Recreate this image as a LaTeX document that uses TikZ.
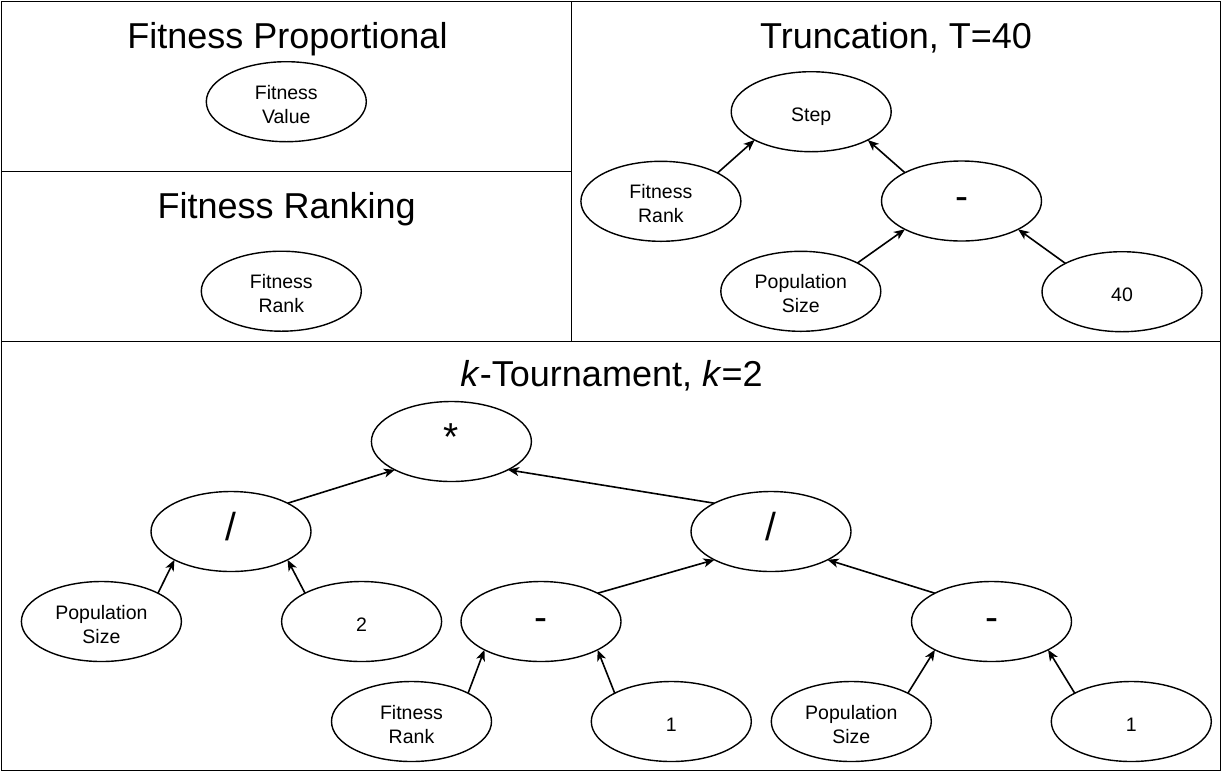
\documentclass[tikz,border=0pt]{standalone}
\usepackage{fontspec}
\setmainfont{Liberation Sans}
\usetikzlibrary{arrows.meta,shapes.geometric}
\begin{document}
\begin{tikzpicture}[x=1pt,y=-1pt,
  panel/.style={draw=black,line width=1.8pt},
  leaf/.style={draw=black,line width=1.4pt,ellipse,minimum width=160pt,minimum height=80pt,inner sep=0pt,outer sep=0pt,align=center,font=\fontsize{19.5}{24}\selectfont,text height=19pt,text depth=0pt},
  leaftwo/.style={leaf,text height=43.2pt,text depth=0pt},
  op/.style={leaf,font=\fontsize{39}{44}\selectfont,text height=22pt,text depth=5pt},
  ttl/.style={anchor=base,font=\fontsize{36}{42}\selectfont,inner sep=0pt},
  link/.style={line width=1.6pt,-{Stealth[length=11pt,width=9pt,inset=3pt]}}]
\useasboundingbox (0,0) rectangle (1222,772);
\draw[panel] (1.5,1.5) rectangle (1220.5,770.5);
\draw[panel] (571.5,1.5) -- (571.5,341.5);
\draw[panel] (1.5,171.5) -- (571.5,171.5);
\draw[panel] (1.5,341.5) -- (1220.5,341.5);
% titles
\node[ttl] (t1) at (287.5,48) {Fitness Proportional};
\node[ttl] (t2) at (286.7,218) {Fitness Ranking};
\node[ttl] (t3) at (896,48) {Truncation, T=40};
\node[ttl] (t4) at (611.5,386.7) {\textit{k}-Tournament, \textit{k}=2};
% left panels
\node[leaftwo] (fv) at (286.3,101.7) {Fitness\\Value};
\node[leaftwo] (fr1) at (281.3,291.2) {Fitness\\Rank};
% truncation
\node[leaf] (step) at (811.2,111.7) {Step};
\node[leaftwo] (fr2) at (660.9,201.3) {Fitness\\Rank};
\node[op] (m1) at (961.5,201) {-};
\node[leaftwo] (ps1) at (800.8,291.3) {Population\\Size};
\node[leaf] (n40) at (1122,291.7) {40};
% tournament
\node[op] (star) at (451.4,441.5) {*};
\node[op] (d1) at (231,531.5) {/};
\node[op] (d2) at (771,531.5) {/};
\node[leaftwo] (ps2) at (101.4,621.5) {Population\\Size};
\node[leaf] (two) at (361.6,621.5) {2};
\node[op] (m2) at (541,621.5) {-};
\node[op] (m3) at (991.5,621.5) {-};
\node[leaftwo] (fr3) at (411.5,721.5) {Fitness\\Rank};
\node[leaf] (one1) at (671.3,721.5) {1};
\node[leaftwo] (ps3) at (851.3,721.5) {Population\\Size};
\node[leaf] (one2) at (1131.3,721.5) {1};
% edges
\draw[link] (fr2.north east) -- (step.south west);
\draw[link] (m1.north west) -- (step.south east);
\draw[link] (ps1.north east) -- (m1.south west);
\draw[link] (n40.north west) -- (m1.south east);
\draw[link] (d1.north east) -- (star.south west);
\draw[link] (d2.north west) -- (star.south east);
\draw[link] (ps2.north east) -- (d1.south west);
\draw[link] (two.north west) -- (d1.south east);
\draw[link] (m2.north east) -- (d2.south west);
\draw[link] (m3.north west) -- (d2.south east);
\draw[link] (fr3.north east) -- (m2.south west);
\draw[link] (one1.north west) -- (m2.south east);
\draw[link] (ps3.north east) -- (m3.south west);
\draw[link] (one2.north west) -- (m3.south east);
\end{tikzpicture}
\end{document}
